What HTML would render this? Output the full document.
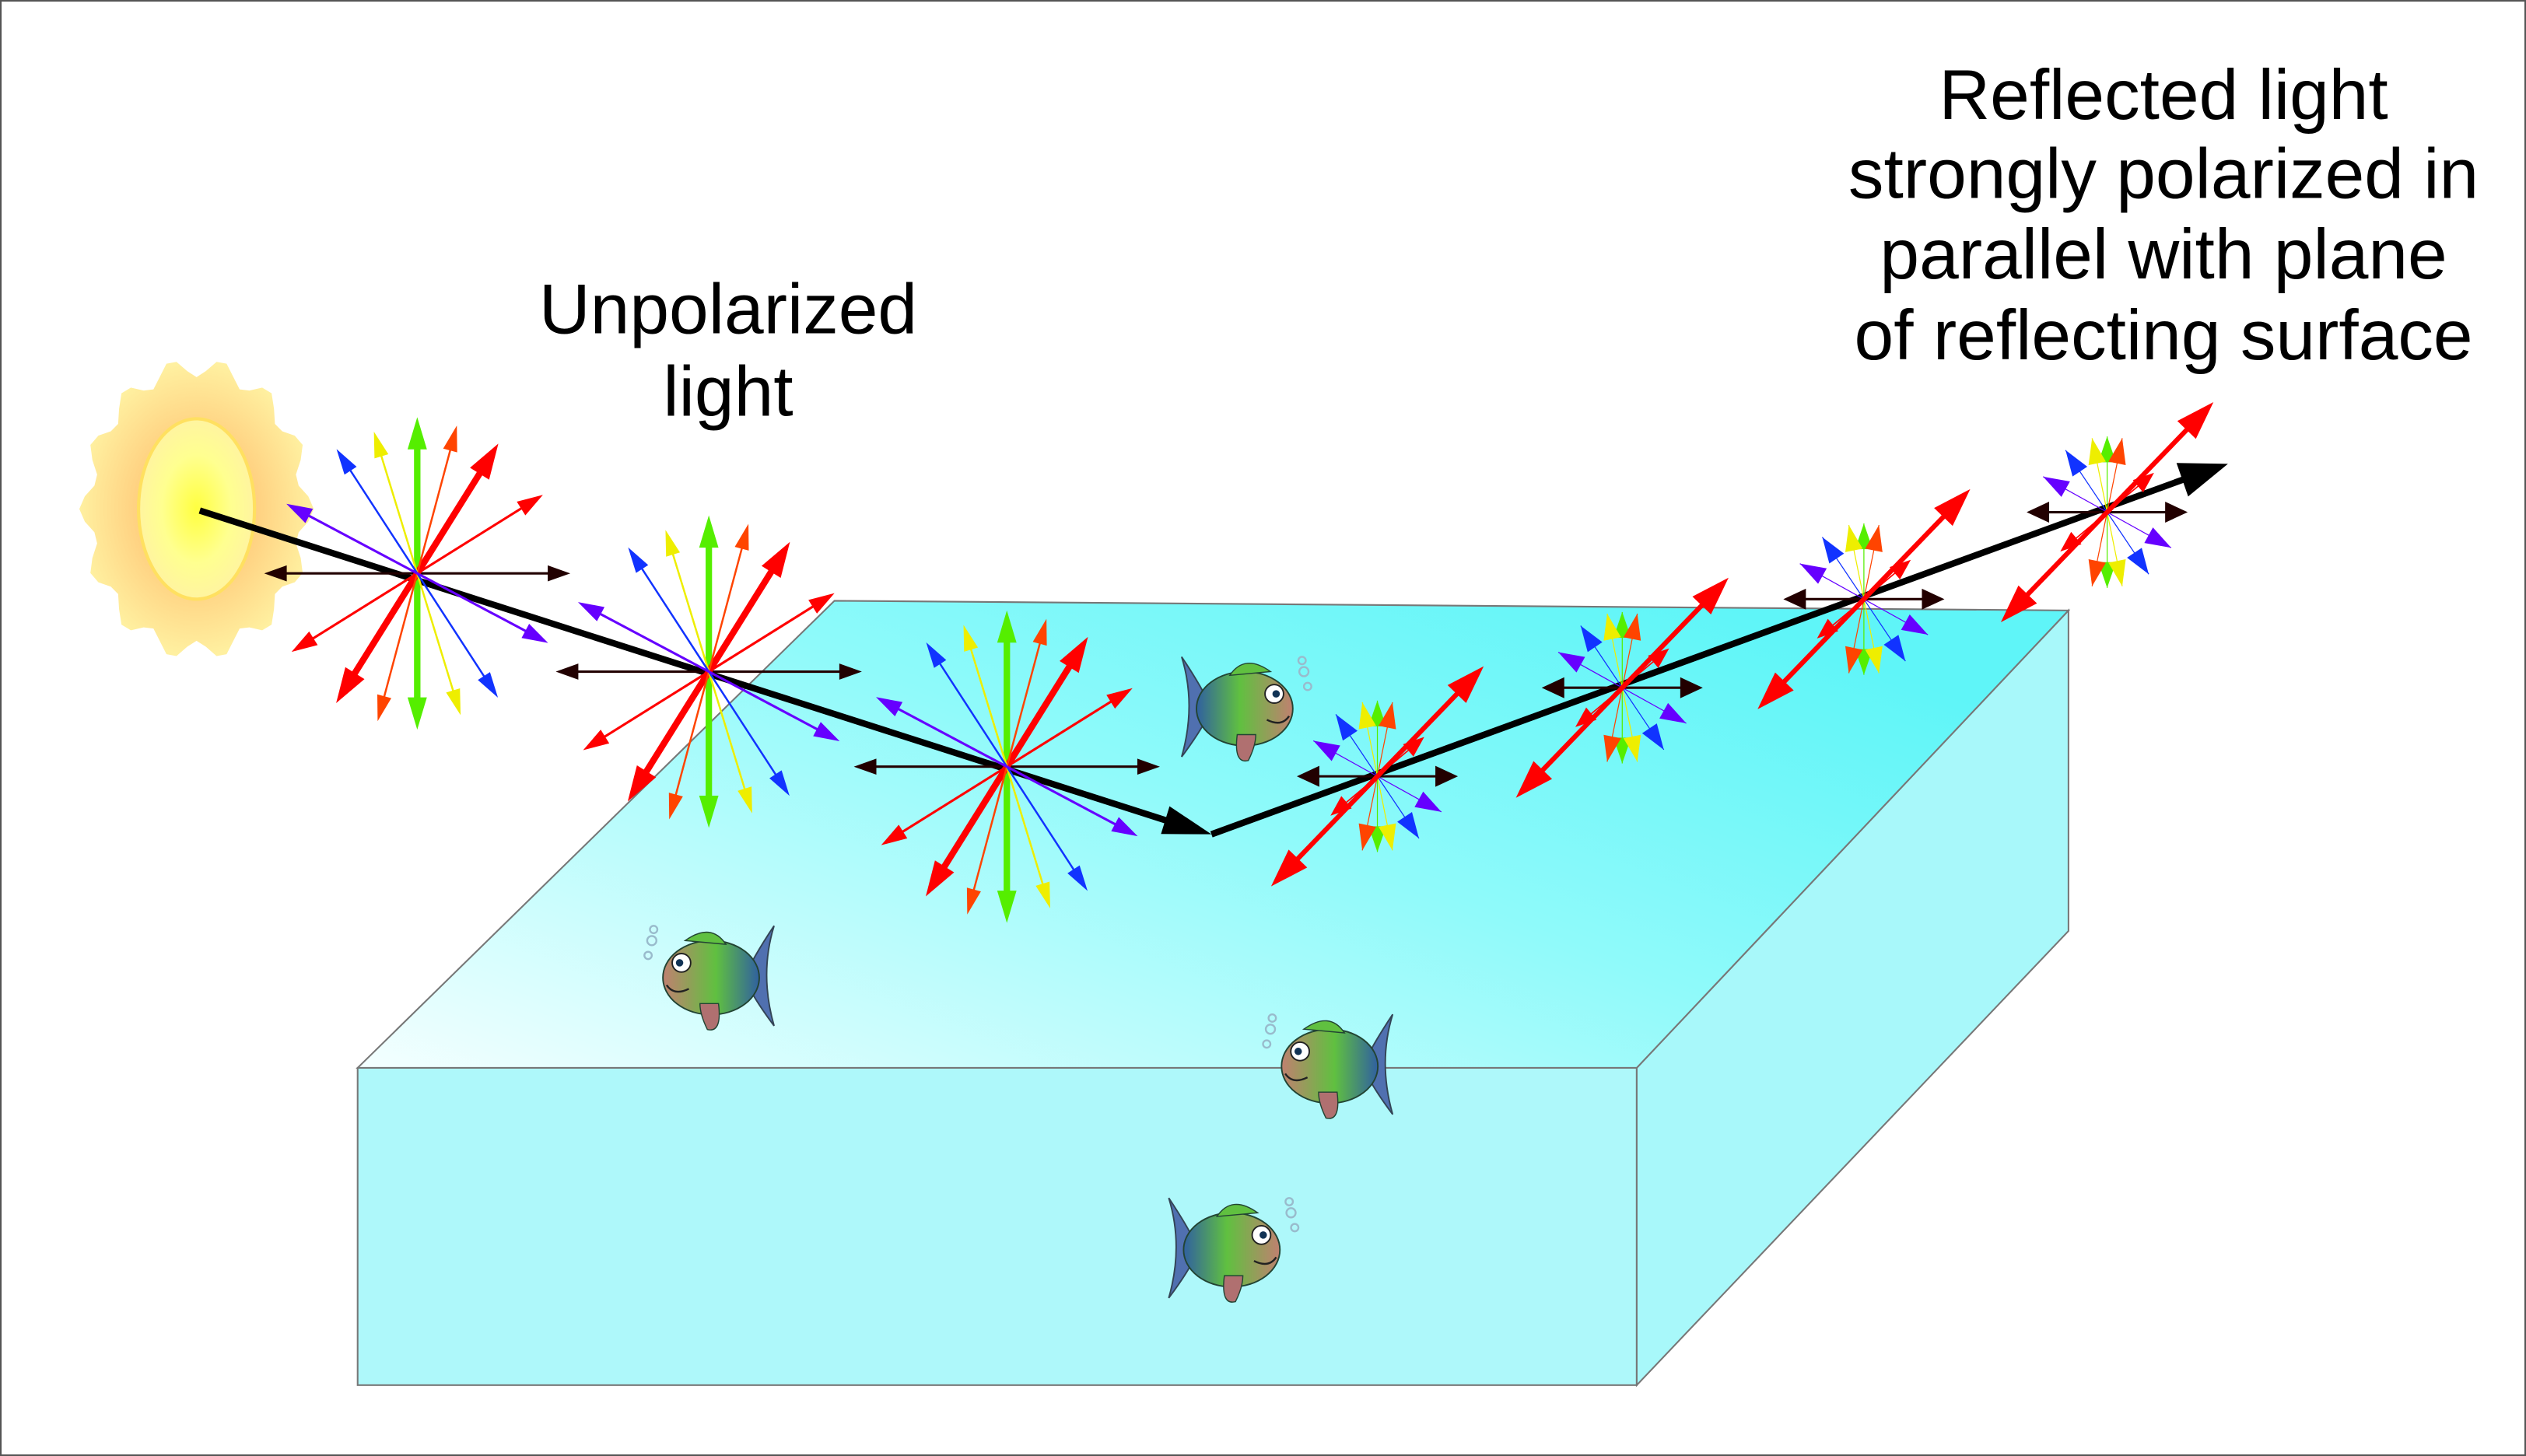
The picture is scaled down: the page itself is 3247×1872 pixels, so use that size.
<!DOCTYPE html>
<html><head><meta charset="utf-8"><style>html,body{margin:0;padding:0;background:#fff}svg{display:block}text{font-family:"Liberation Sans",Arial,sans-serif}</style></head>
<body>
<svg id="s" width="3247" height="1872" viewBox="0 0 1568 904" xmlns="http://www.w3.org/2000/svg">
<defs>
<linearGradient id="top" x1="0" y1="1" x2="1" y2="0.3">
<stop offset="0" stop-color="#f4ffff"/><stop offset="0.6" stop-color="#8ffafa"/><stop offset="1" stop-color="#5ff5f8"/></linearGradient>
<radialGradient id="sun" cx="0.5" cy="0.5" r="0.5"><stop offset="0" stop-color="#ffff40"/><stop offset="0.6" stop-color="#ffff90"/><stop offset="1" stop-color="#fff4a0"/></radialGradient>
<radialGradient id="cor" cx="0.5" cy="0.5" r="0.5"><stop offset="0.5" stop-color="#ffd080"/><stop offset="1" stop-color="#fff0a0"/></radialGradient>
<linearGradient id="fish" x1="0" y1="0" x2="1" y2="0"><stop offset="0" stop-color="#3060a0"/><stop offset="0.45" stop-color="#60c040"/><stop offset="1" stop-color="#c08070"/></linearGradient>
</defs>
<rect x="0.5" y="0.5" width="1567" height="903" fill="#fff" stroke="#555"/>
<polygon points="222,663 1016,663 1016,860 222,860" fill="#aef8fa" stroke="#777" stroke-width="1"/>
<polygon points="1016,663 1284,379 1284,578 1016,860" fill="#a8f8fa" stroke="#777" stroke-width="1"/>
<polygon points="222,663 518,373 1284,379 1016,663" fill="url(#top)" stroke="#777" stroke-width="1"/>
<g id="g"></g>
<text x="452" y="207" font-size="44" text-anchor="middle">Unpolarized</text>
<text x="452" y="258" font-size="44" text-anchor="middle">light</text>
<g font-size="44" text-anchor="middle">
<text x="1343" y="74">Reflected light</text>
<text x="1343" y="123">strongly polarized in</text>
<text x="1343" y="173">parallel with plane</text>
<text x="1343" y="223">of reflecting surface</text>
</g>
</svg>
<script>
const g=document.getElementById('g');let h='';
function head(x,y,ang,L,W,c){const ux=Math.cos(ang),uy=Math.sin(ang);const bx=x-ux*L,by=y-uy*L;
h+=`<polygon points="${x},${y} ${bx-uy*W/2},${by+ux*W/2} ${bx+uy*W/2},${by-ux*W/2}" fill="${c}"/>`;}
function darr(cx,cy,degA,len,c,sw,hl,hw){const a=-degA*Math.PI/180;const ux=Math.cos(a),uy=Math.sin(a);
const x1=cx+ux*len,y1=cy+uy*len,x2=cx-ux*len,y2=cy-uy*len;
h+=`<line x1="${x2+ux*hl*0.7}" y1="${y2+uy*hl*0.7}" x2="${x1-ux*hl*0.7}" y2="${y1-uy*hl*0.7}" stroke="${c}" stroke-width="${sw}"/>`;
head(x1,y1,a,hl,hw,c);head(x2,y2,a+Math.PI,hl,hw,c);}
let p='';for(let i=0;i<=72;i++){const t=i/72*2*Math.PI;const r=1+0.07*Math.cos(t*14);p+=(i?'L':'M')+(122+Math.cos(t)*68*r)+','+(316+Math.sin(t)*88*r);}
h+=`<path d="${p}Z" fill="url(#cor)"/><ellipse cx="122" cy="316" rx="36" ry="56" fill="url(#sun)" stroke="#ffe060" stroke-width="2"/>`;
function star(cx,cy){
darr(cx,cy,90,97,'#55ee00',4,20,12);
darr(cx,cy,0,95,'#200',1.5,14,10);
darr(cx,cy,58,95,'#f00',4,22,14);
darr(cx,cy,32,92,'#f00',1.5,16,10);
darr(cx,cy,75,95,'#f40',1.2,16,9);
darr(cx,cy,107,92,'#ee0',1.2,16,9);
darr(cx,cy,123,92,'#13f',1.2,16,9);
darr(cx,cy,152,92,'#60f',1.5,16,10);}
h+=`<line x1="124" y1="317" x2="732" y2="512" stroke="#000" stroke-width="4"/>`;
star(259,356);star(440,417);star(625,476);
head(752,518,Math.atan2(518-502,752-700),30,18,'#000');
h+=`<line x1="752" y1="518" x2="1360" y2="296" stroke="#000" stroke-width="4"/>`;
head(1383,288,Math.atan2(288-296,1383-1360),30,22,'#000');
function pol(cx,cy){const cols=['#55ee00','#f40','#ee0','#60f','#13f'];const degs=[90,78,102,152,125];
for(let k=0;k<5;k++){const d=degs[k]*Math.PI/180;for(const s of[1,-1]){const ex=cx+s*Math.cos(d)*45,ey=cy-s*Math.sin(d)*47;
h+=`<line x1="${cx}" y1="${cy}" x2="${ex}" y2="${ey}" stroke="${cols[k]}" stroke-width="0.6"/>`;
const a=Math.atan2(ey-cy,ex-cx);head(ex,ey,a,16,11,cols[k]);}}
darr(cx,cy,40,38,'#f00',0.8,13,10);
darr(cx,cy,0,50,'#200',1.5,14,13);
darr(cx,cy,46,95,'#f00',3,24,16);}
pol(855,482);pol(1007,427);pol(1157,372);pol(1308,318);
function fish(x,y,dir){
h+=`<g transform="translate(${x},${y}) scale(${dir*1.15},1.15)">
<path d="M-30,-28 Q-22,-2 -30,26 Q-18,10 -14,0 Q-18,-10 -30,-28Z" fill="#5070b0" stroke="#345" stroke-width="0.8"/>
<ellipse cx="4" cy="0" rx="26" ry="20" fill="url(#fish)" stroke="#243" stroke-width="0.8"/>
<path d="M-4,-18 Q4,-30 18,-20Z" fill="#60c040" stroke="#243" stroke-width="0.6"/>
<path d="M0,14 Q-2,30 6,28 Q10,20 10,14Z" fill="#b07070" stroke="#243" stroke-width="0.6"/>
<circle cx="20" cy="-8" r="5" fill="#fff" stroke="#222" stroke-width="0.8"/><circle cx="21" cy="-8" r="2" fill="#135"/>
<path d="M16,6 Q24,10 28,4" fill="none" stroke="#222" stroke-width="1"/>
<circle cx="36" cy="-20" r="2.5" fill="none" stroke="#9bc"/><circle cx="38" cy="-12" r="2" fill="none" stroke="#9bc"/><circle cx="35" cy="-26" r="2" fill="none" stroke="#9bc"/></g>`;}
fish(768,440,1);fish(446,607,-1);fish(830,662,-1);fish(760,776,1);
g.innerHTML=h;
</script>
</body></html>
